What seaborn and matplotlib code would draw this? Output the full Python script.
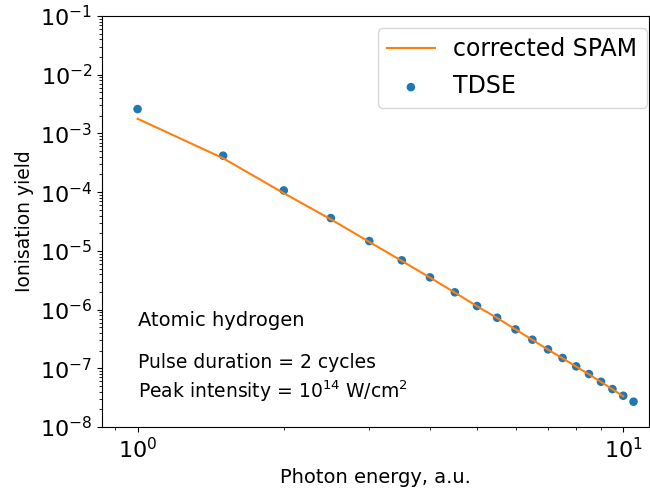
import numpy as np
import pandas as pd
import matplotlib
matplotlib.use("Agg")
import matplotlib.pyplot as plt
import seaborn as sns

# TDSE ionisation yields
energy_tdse = [1.0, 1.5, 2.0, 2.5, 3.0, 3.5, 4.0, 4.5, 5.0, 5.5,
               6.0, 6.5, 7.0, 7.5, 8.0, 8.5, 9.0, 9.5, 10.0, 10.5]
yield_tdse = [2.6e-3, 4.18e-4, 1.07e-4, 3.62e-5, 1.47e-5, 6.9e-6, 3.54e-6,
              1.97e-6, 1.15e-6, 7.26e-7, 4.6e-7, 3.07e-7, 2.1e-7, 1.5e-7,
              1.08e-7, 7.98e-8, 5.9e-8, 4.43e-8, 3.41e-8, 2.7e-8]

# corrected SPAM curve
energy_spam = [1.0, 1.5, 2.0, 2.5, 3.0, 3.5, 4.0, 4.5, 5.0, 5.5,
               6.0, 6.5, 7.0, 7.5, 8.0, 8.5, 9.0, 9.5, 10.0]
yield_spam = [1.78e-3, 3.78e-4, 9.6e-5, 3.45e-5, 1.42e-5, 6.75e-6, 3.5e-6,
              1.95e-6, 1.14e-6, 7.2e-7, 4.6e-7, 3.05e-7, 2.08e-7, 1.48e-7,
              1.07e-7, 7.9e-8, 5.85e-8, 4.4e-8, 3.33e-8]

df_tdse = pd.DataFrame({"energy": energy_tdse, "yield": yield_tdse})
df_spam = pd.DataFrame({"energy": energy_spam, "yield": yield_spam})

fig = plt.figure(figsize=(6.5, 4.91), dpi=100)
ax = fig.add_axes([0.157, 0.1303, 0.8415, 0.8371])

sns.lineplot(data=df_spam, x="energy", y="yield", color="C1", lw=1.5,
             label="corrected SPAM", ax=ax)
sns.scatterplot(data=df_tdse, x="energy", y="yield", color="C0", s=38,
                edgecolor="none", label="TDSE", ax=ax)

ax.set_xscale("log")
ax.set_yscale("log")
ax.set_xlim(0.845, 11.3)
ax.set_ylim(1e-8, 1e-1)
ax.set_yticks([10.0**k for k in range(-8, 0)])
ax.tick_params(labelsize=16)

ax.set_xlabel("Photon energy, a.u.", fontsize=14)
ax.set_ylabel("Ionisation yield", fontsize=13.5)

ax.text(1.0, 5.2e-7, "Atomic hydrogen", fontsize=14)
ax.text(1.0, 1.0e-7, "Pulse duration = 2 cycles", fontsize=13.5)
ax.text(1.0, 3.1e-8, r"Peak intensity = $10^{14}$ W/cm$^2$", fontsize=13.5)

ax.legend(loc="upper right", fontsize=17, bbox_to_anchor=(0.996, 0.971),
          borderaxespad=0, labelspacing=0.55)

fig.savefig("out.png", dpi=100)
